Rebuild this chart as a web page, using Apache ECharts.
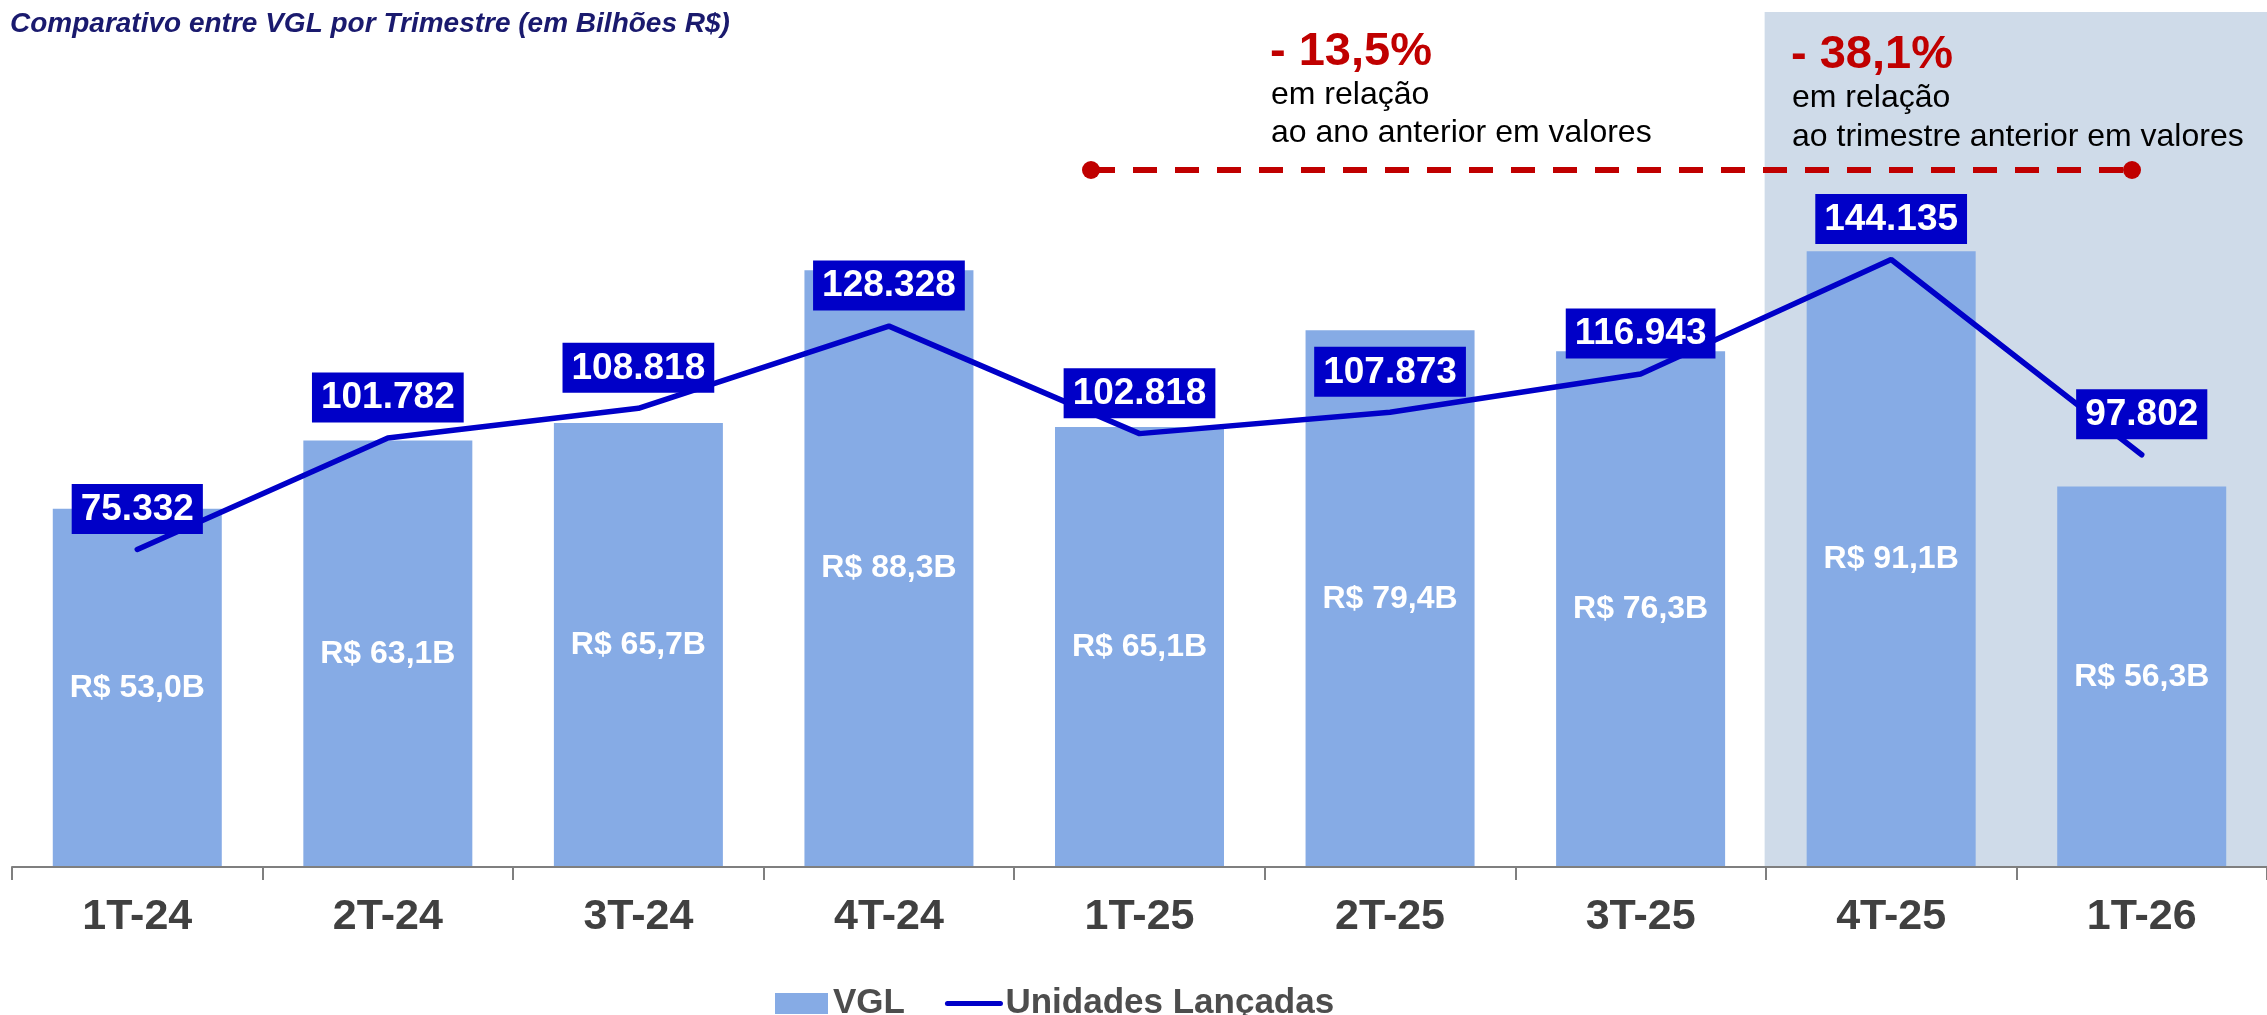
<!DOCTYPE html>
<html>
<head>
<meta charset="utf-8">
<script src="https://cdn.jsdelivr.net/npm/echarts@6/dist/echarts.min.js"></script>
<style>
  html, body { margin: 0; padding: 0; background: #fff; }
  #chart { width: 2267px; height: 1015px; }
</style>
</head>
<body>
<div id="chart"></div>
<script>
// Data
const categories = ["1T-24", "2T-24", "3T-24", "4T-24", "1T-25", "2T-25", "3T-25", "4T-25", "1T-26"];
const vgl = [53.0, 63.1, 65.7, 88.3, 65.1, 79.4, 76.3, 91.1, 56.3];           // R$ bilhões
const unidades = [75.332, 101.782, 108.818, 128.328, 102.818, 107.873, 116.943, 144.135, 97.802];
const highlighted = [false, false, false, false, false, false, false, true, true];

const FONT = "'Liberation Sans', Arial, sans-serif";
const BAR_MAX = 126.5;
const LINE_MAX = 202.85;
const SHADE = "#CFDBE9";

const chart = echarts.init(document.getElementById("chart"));

chart.setOption({
    animation: false,
    title: {
        text: "Comparativo entre VGL por Trimestre (em Bilhões R$)",
        left: 5,
        top: 5,
        textStyle: { fontFamily: FONT, fontSize: 28, fontWeight: "bold", fontStyle: "italic", color: "#1A1A6E" },
    },
    grid: { left: 12, right: 0, top: 12, bottom: 148 },
    legend: {
        data: [
            { name: "VGL", icon: "rect" },
            { name: "Unidades Lançadas", itemStyle: { opacity: 0 } },
        ],
        left: 770,
        top: 981,
        itemWidth: 53,
        itemHeight: 21,
        itemGap: 40,
        lineStyle: { width: 5 },
        textStyle: { fontFamily: FONT, fontSize: 35, fontWeight: "bold", color: "#4D4D4D" },
    },
    xAxis: [
        {
            type: "category",
            data: categories,
            z: 5,
            axisLine: { lineStyle: { color: "#7F7F7F", width: 2 } },
            axisTick: { show: true, length: 13, lineStyle: { color: "#7F7F7F", width: 2 } },
            axisLabel: { margin: 29, fontFamily: FONT, fontSize: 43, fontWeight: "bold", color: "#404040" },
        },
        { type: "category", data: categories, show: false },
    ],
    yAxis: [
        { type: "value", min: 0, max: BAR_MAX, show: false, splitLine: { show: false } },
        { type: "value", min: 0, max: LINE_MAX, show: false, splitLine: { show: false } },
    ],
    series: [
        {
            // shaded background behind the last two quarters
            name: "destaque",
            type: "bar",
            xAxisIndex: 1,
            yAxisIndex: 0,
            barWidth: "101%",
            silent: true,
            z: 0,
            itemStyle: { color: SHADE },
            data: highlighted.map((h) => (h ? BAR_MAX : null)),
        },
        {
            name: "VGL",
            type: "bar",
            xAxisIndex: 0,
            yAxisIndex: 0,
            barWidth: 169,
            itemStyle: { color: "#86ABE5" },
            label: {
                show: true,
                position: "inside",
                fontFamily: FONT,
                fontSize: 32,
                fontWeight: "bold",
                color: "#FFFFFF",
                formatter: (p) => "R$ " + p.value.toFixed(1).replace(".", ",") + "B",
            },
            data: vgl,
        },
        {
            name: "Unidades Lançadas",
            type: "line",
            xAxisIndex: 0,
            yAxisIndex: 1,
            symbol: "circle",
            symbolSize: 1,
            z: 4,
            itemStyle: { color: "#0000C8" },
            lineStyle: { color: "#0000C8", width: 5.5, cap: "round" },
            label: {
                show: true,
                position: "top",
                distance: 15,
                fontFamily: FONT,
                fontSize: 37,
                fontWeight: "bold",
                lineHeight: 37,
                color: "#FFFFFF",
                backgroundColor: "#0000C8",
                padding: [7, 9, 6, 9],
                formatter: (p) => p.value.toFixed(3),
            },
            data: unidades,
        },
    ],
    graphic: [
        // dashed comparison line
        {
            type: "line",
            z: 10,
            shape: { x1: 1091, y1: 170, x2: 2132, y2: 170 },
            style: { stroke: "#C00000", lineWidth: 6, lineDash: [24, 18] },
        },
        { type: "circle", z: 10, shape: { cx: 1091, cy: 170, r: 9 }, style: { fill: "#C00000" } },
        { type: "circle", z: 10, shape: { cx: 2132, cy: 170, r: 9 }, style: { fill: "#C00000" } },
        // left note
        {
            type: "text", z: 10, x: 1270, y: 52,
            style: { text: "- 13,5%", font: "bold 47px " + FONT, fill: "#C00000", verticalAlign: "middle" },
        },
        {
            type: "text", z: 10, x: 1271, y: 95,
            style: { text: "em relação", font: "32px " + FONT, fill: "#000", verticalAlign: "middle" },
        },
        {
            type: "text", z: 10, x: 1271, y: 133,
            style: { text: "ao ano anterior em valores", font: "32px " + FONT, fill: "#000", verticalAlign: "middle" },
        },
        // right note
        {
            type: "text", z: 10, x: 1791, y: 55,
            style: { text: "- 38,1%", font: "bold 47px " + FONT, fill: "#C00000", verticalAlign: "middle" },
        },
        {
            type: "text", z: 10, x: 1792, y: 98,
            style: { text: "em relação", font: "32px " + FONT, fill: "#000", verticalAlign: "middle" },
        },
        {
            type: "text", z: 10, x: 1792, y: 137,
            style: { text: "ao trimestre anterior em valores", font: "32px " + FONT, fill: "#000", verticalAlign: "middle" },
        },
    ],
});
</script>
</body>
</html>
